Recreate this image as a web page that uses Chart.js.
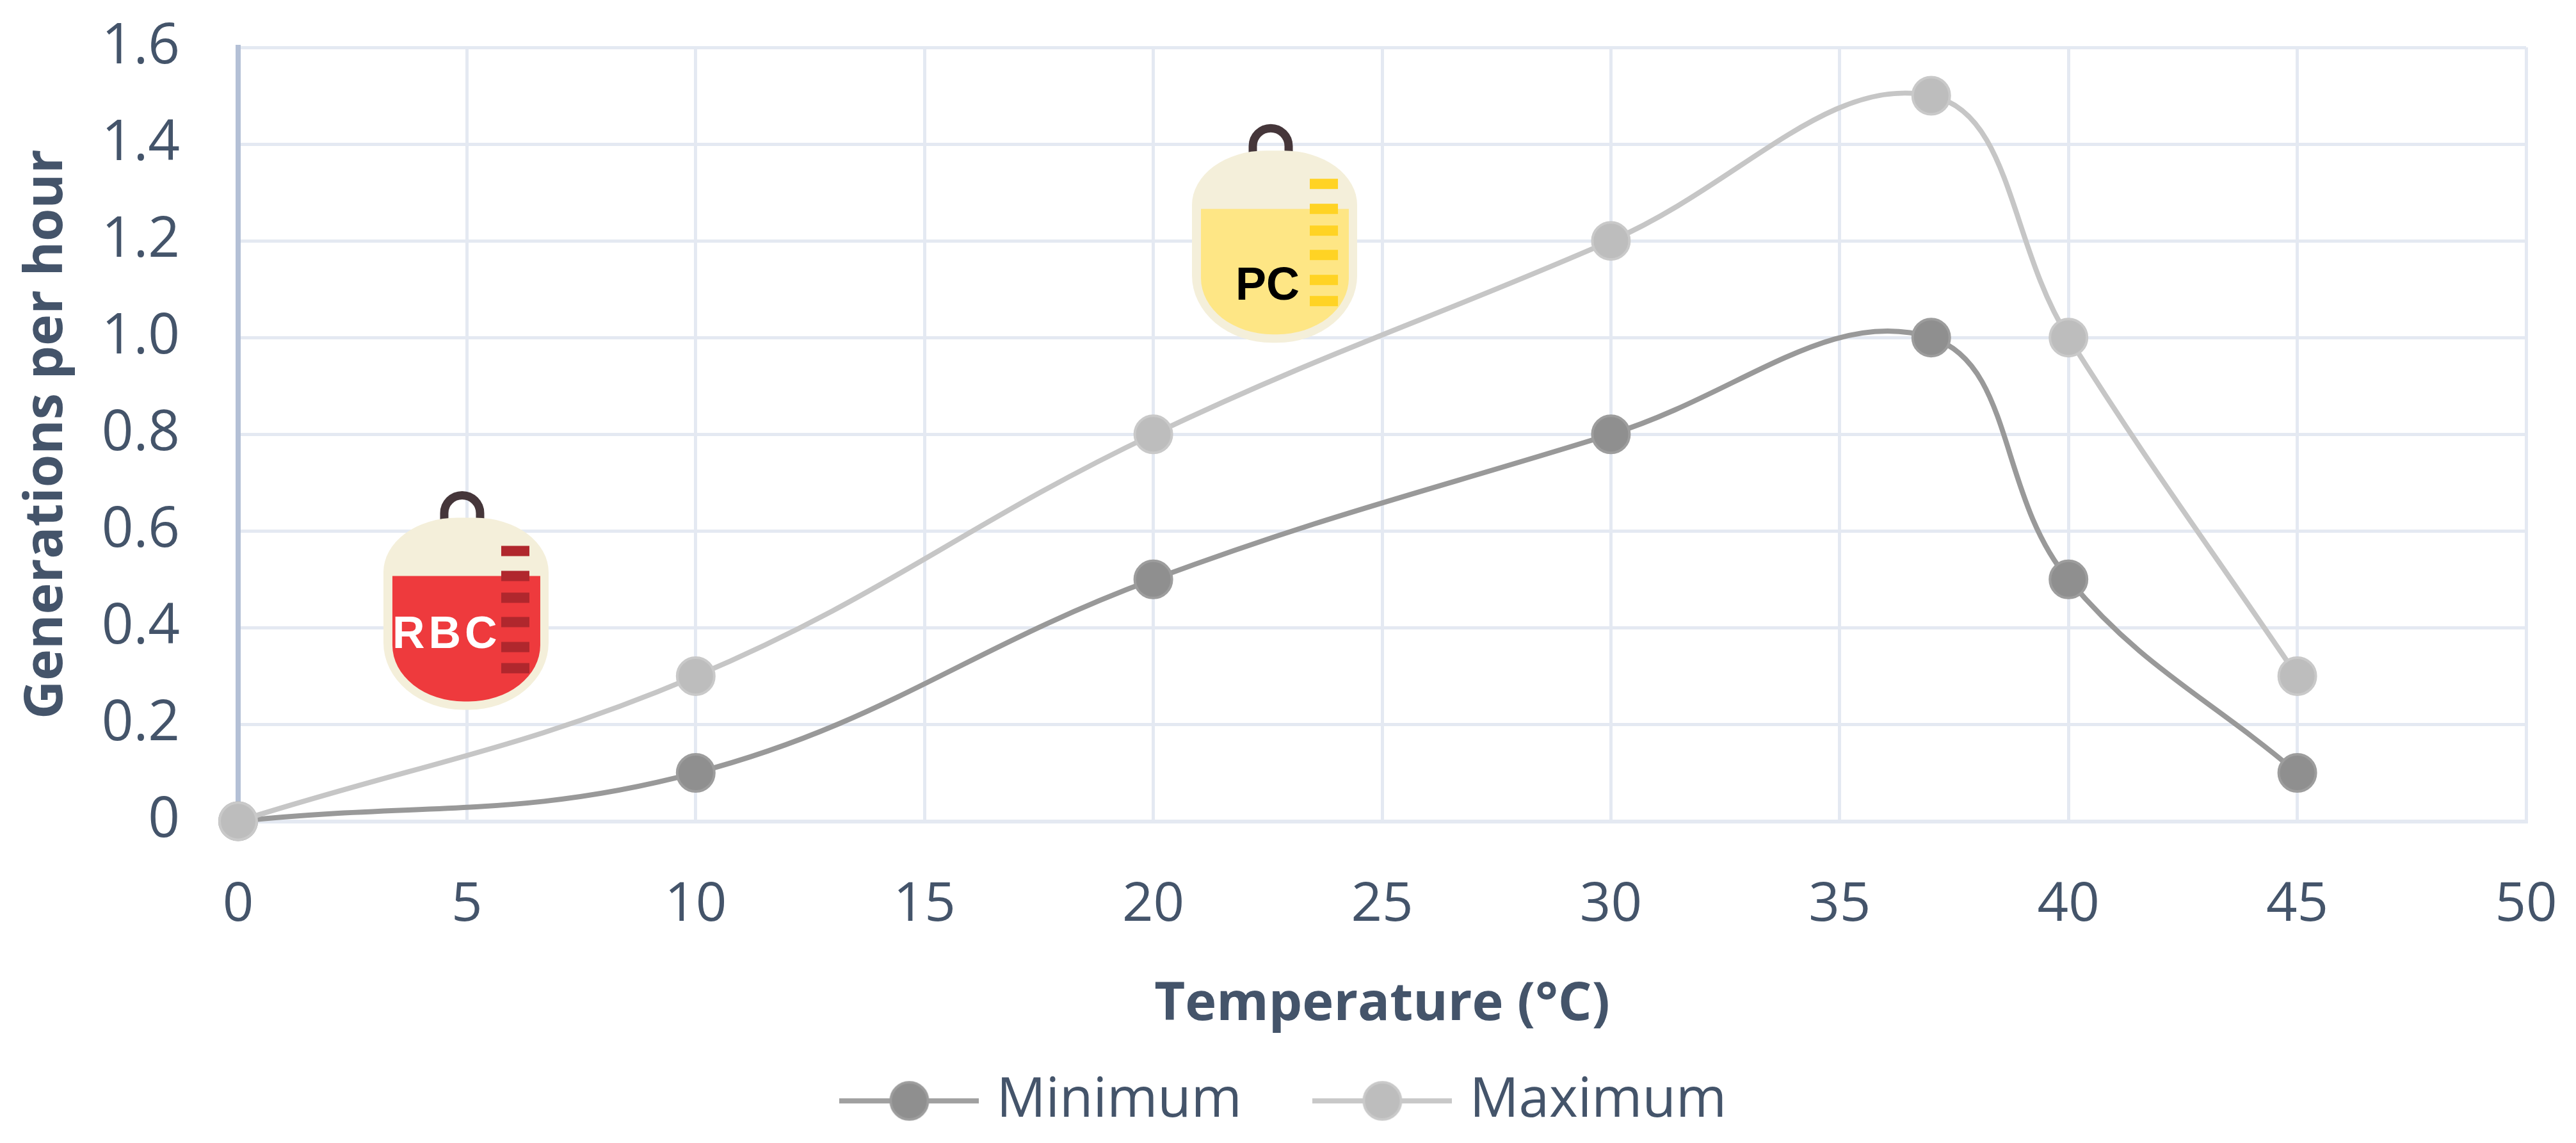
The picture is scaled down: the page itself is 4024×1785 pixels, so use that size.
<!DOCTYPE html>
<html>
<head>
<meta charset="utf-8">
<title>Generations per hour</title>
<script src="https://cdn.jsdelivr.net/npm/chart.js@4"></script>
<style>
  html, body { margin: 0; padding: 0; background: #fff; }
  canvas { display: block; }
</style>
</head>
<body>
<canvas id="chart" width="4024" height="1785"></canvas>
<script>
// Data
var temperatures = [0, 10, 20, 30, 37, 40, 45];
var minimumValues = [0, 0.1, 0.5, 0.8, 1.0, 0.5, 0.1];
var maximumValues = [0, 0.3, 0.8, 1.2, 1.5, 1.0, 0.3];
var seriesNames = ['Minimum', 'Maximum'];

var textColor = '#44546a';
var gridColor = '#e4e9f2';
var tickFont = 'Open Sans';

function toPoints(values) {
  return values.map(function(v, i) { return { x: temperatures[i], y: v }; });
}

// Legend key: short line with the marker on top
function legendKey(lineColor, fill, border) {
  var c = document.createElement('canvas');
  c.width = 218;
  c.height = 66;
  var g = c.getContext('2d');
  g.fillStyle = lineColor;
  g.fillRect(0, 29, 218, 8);
  g.beginPath();
  g.arc(109, 33, 29, 0, Math.PI * 2);
  g.fillStyle = fill;
  g.fill();
  g.lineWidth = 4;
  g.strokeStyle = border;
  g.stroke();
  return c;
}

var legendKeys = [
  legendKey('#a0a0a0', '#8f8f8f', '#9d9d9d'),
  legendKey('#c8c8c8', '#bdbdbd', '#c9c9c9')
];

// Blood bag drawings, x/y is where the bag centre sits on the chart scales
var bags = [
  { x: 4.98, y: 0.429, label: 'RBC', fill: '#ee3a3d', marks: '#b0272d', text: '#ffffff', textX: -115, textY: 54, size: 70, spacing: '6px' },
  { x: 22.65, y: 1.188, label: 'PC', fill: '#fee685', marks: '#ffd324', text: '#000000', textX: -61, textY: 83, size: 72, spacing: '0px' }
];
var bagMarks = [-98, -59, -25, 13, 52, 85];

var bagPlugin = {
  id: 'bags',
  afterDatasetsDraw: function(chart) {
    var ctx = chart.ctx;
    bags.forEach(function(bag) {
      var cx = chart.scales.x.getPixelForValue(bag.x);
      var cy = chart.scales.y.getPixelForValue(bag.y);
      ctx.save();
      ctx.translate(cx, cy);

      // hook
      ctx.strokeStyle = '#45363a';
      ctx.lineWidth = 13;
      ctx.beginPath();
      ctx.moveTo(-34, -146);
      ctx.lineTo(-34, -157);
      ctx.arc(-6, -157, 28, Math.PI, 0);
      ctx.lineTo(22, -146);
      ctx.stroke();

      // bag body
      ctx.fillStyle = '#f4efda';
      ctx.beginPath();
      ctx.roundRect(-129, -150, 258, 300, [{ x: 115, y: 85 }, { x: 115, y: 85 }, { x: 125, y: 105 }, { x: 125, y: 105 }]);
      ctx.fill();

      // liquid
      ctx.fillStyle = bag.fill;
      ctx.beginPath();
      ctx.roundRect(-115, -59, 231, 196, [0, 0, { x: 112, y: 88 }, { x: 112, y: 88 }]);
      ctx.fill();

      // scale marks
      ctx.fillStyle = bag.marks;
      bagMarks.forEach(function(my) {
        ctx.fillRect(55, my - 8, 44, 16);
      });

      ctx.fillStyle = bag.text;
      ctx.font = 'bold ' + bag.size + 'px "Liberation Sans"';
      ctx.letterSpacing = bag.spacing;
      ctx.textAlign = 'left';
      ctx.textBaseline = 'alphabetic';
      ctx.fillText(bag.label, bag.textX, bag.textY);
      ctx.restore();
    });
  }
};

new Chart(document.getElementById('chart').getContext('2d'), {
  type: 'scatter',
  data: {
    datasets: [{
      label: seriesNames[0],
      data: toPoints(minimumValues),
      showLine: true,
      tension: 0.4,
      clip: false,
      borderColor: '#999999',
      borderWidth: 8,
      pointRadius: 29,
      pointBorderWidth: 4,
      pointBackgroundColor: '#8f8f8f',
      pointBorderColor: '#9d9d9d',
      order: 2
    }, {
      label: seriesNames[1],
      data: toPoints(maximumValues),
      showLine: true,
      tension: 0.4,
      clip: false,
      borderColor: '#c6c6c6',
      borderWidth: 8,
      pointRadius: 29,
      pointBorderWidth: 4,
      pointBackgroundColor: '#bdbdbd',
      pointBorderColor: '#c9c9c9',
      order: 1
    }]
  },
  options: {
    responsive: false,
    animation: false,
    devicePixelRatio: 1,
    layout: { autoPadding: false, padding: { top: 74, right: 0, bottom: 13, left: 0 } },
    plugins: {
      tooltip: { enabled: false },
      legend: {
        position: 'bottom',
        labels: {
          color: textColor,
          font: { family: tickFont, size: 85.5 },
          usePointStyle: true,
          pointStyleWidth: 187,
          padding: 126,
          sort: function(a, b) { return a.datasetIndex - b.datasetIndex; },
          generateLabels: function(chart) {
            var items = Chart.defaults.plugins.legend.labels.generateLabels(chart);
            items.forEach(function(item) { item.pointStyle = legendKeys[item.datasetIndex]; });
            return items;
          }
        }
      }
    },
    scales: {
      x: {
        type: 'linear',
        min: 0,
        max: 50,
        title: {
          display: true,
          text: 'Temperature (°C)',
          color: textColor,
          font: { family: tickFont, size: 83, weight: 'bold' },
          padding: { top: 0, bottom: -69 }
        },
        ticks: {
          stepSize: 5,
          color: textColor,
          font: { family: tickFont, size: 85 },
          padding: 80,
          maxRotation: 0
        },
        grid: { color: gridColor, lineWidth: 5, drawTicks: false },
        border: { color: gridColor, width: 6 },
        // tick padding also ends up in the side margins, so set those by hand
        afterFit: function(scale) {
          scale.height = 268;
          scale.paddingLeft = 0;
          scale.paddingRight = 78;
        }
      },
      y: {
        min: 0,
        max: 1.6,
        title: {
          display: true,
          text: 'Generations per hour',
          color: textColor,
          font: { family: tickFont, size: 83, weight: 'bold' },
          padding: { top: 24, bottom: 0 }
        },
        ticks: {
          stepSize: 0.2,
          color: textColor,
          font: { family: tickFont, size: 87 },
          padding: 91,
          callback: function(v) { return v === 0 ? '0' : v.toFixed(1); }
        },
        grid: { color: gridColor, lineWidth: 5, drawTicks: false },
        border: { color: '#b4c0d6', width: 8 },
        afterFit: function(scale) {
          scale.width = 372;
          scale.paddingTop = 0;
          scale.paddingBottom = 0;
        }
      }
    }
  },
  plugins: [bagPlugin]
});
</script>
</body>
</html>
